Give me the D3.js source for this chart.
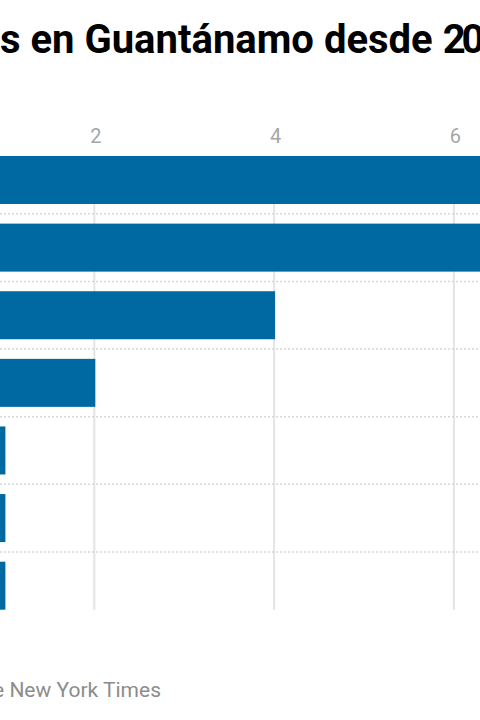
<!DOCTYPE html>
<html>
<head>
<meta charset="utf-8">
<script src="https://cdn.jsdelivr.net/npm/d3@7"></script>
<style>
  html, body { margin: 0; padding: 0; background: #fff; }
  svg { display: block; overflow: hidden; font-family: Roboto, "Noto Sans", sans-serif; }
</style>
</head>
<body>
<svg id="chart" width="480" height="720"></svg>
<script>
// filas del grafico (etiquetas fuera del recorte visible)
var categories = ["Fila 1", "Fila 2", "Fila 3", "Fila 4", "Fila 5", "Fila 6", "Fila 7"];
var values = [8, 7, 4, 2, 1, 1, 1];
var tickValues = [0, 2, 4, 6, 8];

var titleText = "s en Guantánamo desde ";
var titleYear = "200";
var sourceText = "The New York Times";

var svg = d3.select("#chart");

// escala: 2 -> x=94, 6 -> x=454
var x = d3.scaleLinear().domain([0, 10]).range([-85.5, 813.5]);
var y = d3.scaleBand().domain(categories).range([156, 609.7]).paddingInner(0.29).paddingOuter(0);

// titulo
var title = svg.append("text")
  .attr("x", 0)
  .attr("y", 53)
  .attr("font-size", "40px")
  .attr("font-weight", 700)
  .attr("fill", "#000")
  .text(titleText);
title.append("tspan")
  .attr("letter-spacing", "-4px")
  .text(titleYear);

// lineas verticales de la cuadricula
svg.append("g").selectAll("line")
  .data(tickValues)
  .join("line")
  .attr("x1", function(d) { return x(d); })
  .attr("x2", function(d) { return x(d); })
  .attr("y1", y.range()[0])
  .attr("y2", y.range()[1])
  .attr("stroke", "#e4e4e4")
  .attr("stroke-width", 2);

// separadores punteados entre filas
var gap = y.step() - y.bandwidth();
svg.append("g").selectAll("line")
  .data(categories.slice(0, -1))
  .join("line")
  .attr("x1", -200)
  .attr("x2", 700)
  .attr("y1", function(d) { return y(d) + y.bandwidth() + gap / 2; })
  .attr("y2", function(d) { return y(d) + y.bandwidth() + gap / 2; })
  .attr("stroke", "#d6d6d6")
  .attr("stroke-width", 1.5)
  .attr("stroke-dasharray", "2,2");

// eje superior
var axis = svg.append("g")
  .attr("transform", "translate(0,143)")
  .call(d3.axisTop(x).tickValues(tickValues).tickSize(0).tickPadding(0));
axis.select(".domain").remove();
axis.selectAll("text")
  .attr("font-family", "Roboto, sans-serif")
  .attr("font-size", "20px")
  .attr("fill", "#a6a6a6")
  .attr("dx", 1)
  .attr("dy", 0);

// barras
svg.append("g").selectAll("rect")
  .data(values)
  .join("rect")
  .attr("x", x(0))
  .attr("y", function(d, i) { return y(categories[i]); })
  .attr("width", function(d) { return x(d) - x(0) + 1; })
  .attr("height", y.bandwidth())
  .attr("fill", "#0069a1");

// fuente
svg.append("text")
  .attr("x", 161)
  .attr("y", 697)
  .attr("text-anchor", "end")
  .attr("font-size", "21px")
  .attr("fill", "#8c8c8c")
  .text(sourceText);
</script>
</body>
</html>
